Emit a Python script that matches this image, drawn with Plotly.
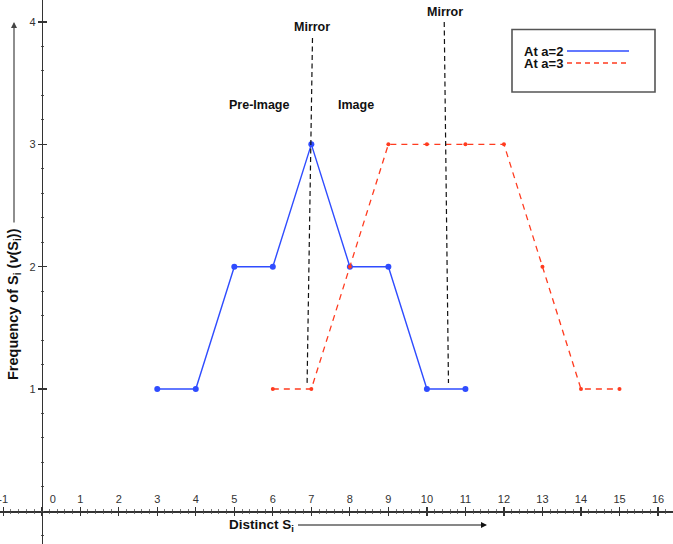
import plotly.graph_objects as go

# ---- data ----
blue_name = "At a=2"
blue_x = [3, 4, 5, 6, 7, 8, 9, 10, 11]
blue_y = [1, 1, 2, 2, 3, 2, 2, 1, 1]

red_name = "At a=3"
red_x = [6, 7, 8, 9, 10, 11, 12, 13, 14, 15]
red_y = [1, 1, 2, 3, 3, 3, 3, 2, 1, 1]

mirror1_x = [7.03, 6.89]
mirror1_y = [3.87, 1.05]
mirror2_x = [10.45, 10.56]
mirror2_y = [4.0, 1.05]

x_tick_vals = list(range(-1, 17))
x_tick_text = ["-1", "\u2002\u2002\u2002\u20020"] + [str(v) for v in range(1, 17)]
y_tick_vals = [1, 2, 3, 4]
y_tick_text = ["1", "2", "3", "4"]

X_RANGE = [-1.0826, 16.389]
Y_RANGE = [-0.267, 4.18]

BLUE = "#2f4cff"
RED = "#ff3b1f"
FONT = "Liberation Sans, Arial, sans-serif"
W, H = 673, 544

fig = go.Figure()

fig.add_trace(go.Scatter(x=mirror1_x, y=mirror1_y, mode="lines",
                         line=dict(color="#111111", width=1.2, dash="5px,3.5px"),
                         xaxis="x2", yaxis="y2", hoverinfo="skip", showlegend=False))
fig.add_trace(go.Scatter(x=mirror2_x, y=mirror2_y, mode="lines",
                         line=dict(color="#111111", width=1.2, dash="5px,3.5px"),
                         xaxis="x2", yaxis="y2", hoverinfo="skip", showlegend=False))
fig.add_trace(go.Scatter(x=blue_x, y=blue_y, mode="lines+markers", name=blue_name,
                         line=dict(color=BLUE, width=1.4),
                         marker=dict(color=BLUE, size=6), showlegend=False))
fig.add_trace(go.Scatter(x=red_x, y=red_y, mode="lines+markers", name=red_name,
                         line=dict(color=RED, width=1.3, dash="6px,5px"),
                         marker=dict(color=RED, size=4), showlegend=False))

x_pos = (0 - Y_RANGE[0]) / (Y_RANGE[1] - Y_RANGE[0])
y_pos = (0 - X_RANGE[0]) / (X_RANGE[1] - X_RANGE[0])

tickfont = dict(family=FONT, size=11, color="#333333")

common_x = dict(range=X_RANGE, anchor="free", position=x_pos, showgrid=False,
                zeroline=False, fixedrange=True, automargin=False)
common_y = dict(range=Y_RANGE, anchor="free", position=y_pos, showgrid=False,
                zeroline=False, fixedrange=True, automargin=False)

minor_x = dict(ticks="outside", ticklen=2, tickwidth=0.8, tickcolor="#555555", dtick=0.2, tick0=0)
minor_y = dict(ticks="outside", ticklen=1, tickwidth=1, tickcolor="#555555", dtick=0.2, tick0=0)

fig.update_layout(
    width=W, height=H,
    margin=dict(l=0, r=0, t=0, b=0, autoexpand=False),
    paper_bgcolor="white", plot_bgcolor="white",
    showlegend=False,
    xaxis=dict(**common_x, side="top", showline=True, linecolor="#333333", linewidth=1.2,
               ticks="outside", ticklen=4, tickwidth=1.2, tickcolor="#333333",
               tickmode="array", tickvals=x_tick_vals, ticktext=x_tick_text,
               tickfont=tickfont, ticklabeloverflow="allow", minor=minor_x),
    xaxis2=dict(**common_x, overlaying="x", side="bottom", showline=False,
                ticks="outside", ticklen=4, tickwidth=1.2, tickcolor="#333333",
                tickmode="array", tickvals=x_tick_vals, showticklabels=False, minor=minor_x),
    yaxis=dict(**common_y, side="left", showline=True, linecolor="#333333", linewidth=1.2,
               ticks="outside", ticklen=4, tickwidth=1.2, tickcolor="#333333",
               tickmode="array", tickvals=y_tick_vals, ticktext=y_tick_text,
               tickfont=tickfont, minor=minor_y),
    yaxis2=dict(**common_y, overlaying="y", side="right", showline=False,
                ticks="outside", ticklen=4, tickwidth=1.2, tickcolor="#333333",
                tickmode="array", tickvals=y_tick_vals, showticklabels=False, minor=minor_y),
)

bold = dict(family=FONT, size=12.5, color="#111111")
title_font = dict(family=FONT, size=13.5, color="#111111")


def px2x(px):
    return X_RANGE[0] + px / W * (X_RANGE[1] - X_RANGE[0])


def px2y(py):
    return Y_RANGE[1] - py / H * (Y_RANGE[1] - Y_RANGE[0])


# text labels
for txt, px, py in [("Mirror", 311.5, 27), ("Mirror", 445, 12),
                    ("Pre-Image", 259, 105), ("Image", 356, 105)]:
    fig.add_annotation(x=px2x(px), y=px2y(py), text=f"<b>{txt}</b>", showarrow=False,
                       font=bold, xanchor="center", yanchor="middle")

# axis titles with arrows
fig.add_annotation(x=px2x(487), y=px2y(525), ax=-226, ay=0,
                   text="<b>Distinct S<sub>i</sub></b>", showarrow=True, arrowhead=2,
                   arrowsize=1, arrowwidth=1.2, arrowcolor="#111111", standoff=0, startstandoff=3,
                   font=title_font)
fig.add_annotation(x=px2x(14), y=px2y(22), ax=0, ay=282,
                   text="<b>Frequency of S<sub>i</sub> (<i>v</i>(S<sub>i</sub>))</b>", textangle=-90,
                   showarrow=True, arrowhead=2, arrowsize=1, arrowwidth=1.2, arrowcolor="#444444",
                   standoff=0, startstandoff=4, font=dict(family=FONT, size=14.5, color="#111111"))

# legend box (custom: text left, sample right)
fig.add_shape(type="rect", xref="paper", yref="paper",
              x0=512 / W, x1=655 / W, y0=1 - 92 / H, y1=1 - 29.5 / H,
              line=dict(color="#555555", width=1.6), fillcolor="white", layer="below")
fig.add_shape(type="line", xref="paper", yref="paper",
              x0=567 / W, x1=629 / W, y0=1 - 51 / H, y1=1 - 51 / H,
              line=dict(color=BLUE, width=1.4))
fig.add_shape(type="line", xref="paper", yref="paper",
              x0=567 / W, x1=629 / W, y0=1 - 63 / H, y1=1 - 63 / H,
              line=dict(color=RED, width=1.4, dash="5px,4px"))
for name, py in [(blue_name, 51), (red_name, 63)]:
    fig.add_annotation(xref="paper", yref="paper", x=565 / W, y=1 - py / H, text=f"<b>{name}</b>",
                       showarrow=False, xanchor="right", yanchor="middle",
                       font=dict(family=FONT, size=13, color="#111111"))

fig.write_html("out.html", config={"displayModeBar": False, "staticPlot": True},
               post_script="document.body.style.margin='0';document.body.style.overflow='hidden';")
